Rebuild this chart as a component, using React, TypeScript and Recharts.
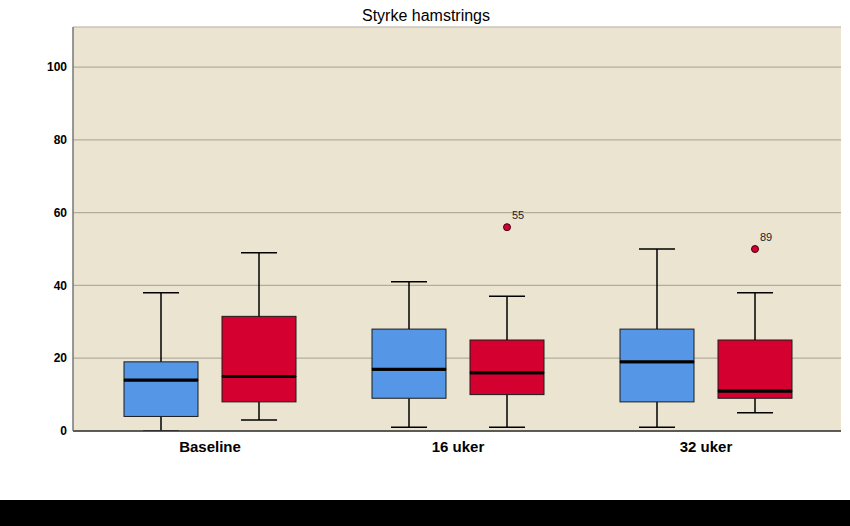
import React from 'react'
import { Bar, CartesianGrid, ComposedChart, XAxis, YAxis } from 'recharts'

const categories = ['Baseline', '16 uker', '32 uker']

// five-number summaries per group: min, q1, median, q3, max
const blueMin = [0, 1, 1]
const blueQ1 = [4, 9, 8]
const blueMed = [14, 17, 19]
const blueQ3 = [19, 28, 28]
const blueMax = [38, 41, 50]
const blueOut: (number | null)[] = [null, null, null]
const blueOutLabel = ['', '', '']

const redMin = [3, 1, 5]
const redQ1 = [8, 10, 9]
const redMed = [15, 16, 11]
const redQ3 = [31.5, 25, 25]
const redMax = [49, 37, 38]
const redOut: (number | null)[] = [null, 56, 50]
const redOutLabel = ['', '55', '89']

const yTicks = [0, 20, 40, 60, 80, 100]

const BLUE = '#5597e6'
const RED = '#d40030'
const BG = '#ebe4d1'

const data = categories.map((name, i) => ({
  name,
  bBase: blueMin[i],
  bLow: blueQ1[i] - blueMin[i],
  bBox1: blueMed[i] - blueQ1[i],
  bBox2: blueQ3[i] - blueMed[i],
  bHigh: blueMax[i] - blueQ3[i],
  bOut: blueOut[i] != null ? (blueOut[i] as number) - blueMax[i] : 0,
  bLabel: blueOutLabel[i],
  rBase: redMin[i],
  rLow: redQ1[i] - redMin[i],
  rBox1: redMed[i] - redQ1[i],
  rBox2: redQ3[i] - redMed[i],
  rHigh: redMax[i] - redQ3[i],
  rOut: redOut[i] != null ? (redOut[i] as number) - redMax[i] : 0,
  rLabel: redOutLabel[i],
}))

const CAP = 36

const LowWhisker = (p: any) => {
  const cx = p.x + p.width / 2
  const bottom = p.y + p.height
  return (
    <g>
      <line x1={cx} x2={cx} y1={p.y} y2={bottom} stroke='#000' strokeWidth={1.5} />
      <line x1={cx - CAP / 2} x2={cx + CAP / 2} y1={bottom} y2={bottom} stroke='#000' strokeWidth={1.5} />
    </g>
  )
}

const HighWhisker = (p: any) => {
  const cx = p.x + p.width / 2
  return (
    <g>
      <line x1={cx} x2={cx} y1={p.y} y2={p.y + p.height} stroke='#000' strokeWidth={1.5} />
      <line x1={cx - CAP / 2} x2={cx + CAP / 2} y1={p.y} y2={p.y} stroke='#000' strokeWidth={1.5} />
    </g>
  )
}

const makeBox = (fill: string, medianAtBottom: boolean) => (p: any) => {
  const my = medianAtBottom ? p.y + p.height : p.y
  return (
    <g>
      <rect x={p.x} y={p.y} width={p.width} height={p.height} fill={fill} stroke='#1a1a1a' strokeWidth={1} />
      <line x1={p.x} x2={p.x + p.width} y1={my} y2={my} stroke='#000' strokeWidth={3} />
    </g>
  )
}

const makeOutlier = (labelKey: string) => (p: any) => {
  if (!p.height || p.height <= 0) return <g />
  const cx = p.x + p.width / 2
  return (
    <g>
      <circle cx={cx} cy={p.y} r={3.5} fill={RED} stroke='#3a0010' strokeWidth={1} />
      <text x={cx + 5} y={p.y - 8} fontSize={11} fontFamily='Liberation Sans, Arial, sans-serif' fill='#222'>
        {p.payload[labelKey]}
      </text>
    </g>
  )
}

const Empty = () => <g />

function App() {
  return (
    <div style={{ position: 'absolute', left: 0, top: 0, width: 850, height: 526, background: '#fff' }}>
      <div
        style={{
          position: 'absolute',
          left: 0,
          top: 7,
          width: 852,
          textAlign: 'center',
          fontFamily: 'Liberation Sans, Arial, sans-serif',
          fontSize: 16,
          color: '#000',
        }}
      >
        Styrke hamstrings
      </div>
      <div style={{ position: 'absolute', left: 0, top: 0 }}>
        <ComposedChart
          width={850}
          height={500}
          data={data}
          margin={{ top: 27, right: 9, bottom: 29, left: 0 }}
          barSize={74}
          barGap={24}
        >
          <CartesianGrid vertical={false} fill={BG} stroke='#b5ad9c' strokeWidth={1.2} />
          <XAxis
            dataKey='name'
            height={40}
            padding={{ left: 13, right: 11 }}
            tickLine={false}
            axisLine={{ stroke: '#333', strokeWidth: 1.5 }}
            tick={{ fill: '#000', fontSize: 15, fontWeight: 'bold', fontFamily: 'Liberation Sans, Arial, sans-serif' }}
            tickMargin={4}
          />
          <YAxis
            width={73}
            domain={[0, 111]}
            ticks={yTicks}
            allowDataOverflow
            tickLine={false}
            axisLine={{ stroke: '#777', strokeWidth: 1.5 }}
            tick={{ fill: '#000', fontSize: 12, fontWeight: 'bold', fontFamily: 'Liberation Sans, Arial, sans-serif' }}
            tickMargin={0}
          />
          <Bar dataKey='bBase' stackId='blue' fill='none' shape={Empty} isAnimationActive={false} />
          <Bar dataKey='bLow' stackId='blue' shape={LowWhisker} isAnimationActive={false} />
          <Bar dataKey='bBox1' stackId='blue' shape={makeBox(BLUE, false)} isAnimationActive={false} />
          <Bar dataKey='bBox2' stackId='blue' shape={makeBox(BLUE, true)} isAnimationActive={false} />
          <Bar dataKey='bHigh' stackId='blue' shape={HighWhisker} isAnimationActive={false} />
          <Bar dataKey='bOut' stackId='blue' shape={makeOutlier('bLabel')} isAnimationActive={false} />
          <Bar dataKey='rBase' stackId='red' fill='none' shape={Empty} isAnimationActive={false} />
          <Bar dataKey='rLow' stackId='red' shape={LowWhisker} isAnimationActive={false} />
          <Bar dataKey='rBox1' stackId='red' shape={makeBox(RED, false)} isAnimationActive={false} />
          <Bar dataKey='rBox2' stackId='red' shape={makeBox(RED, true)} isAnimationActive={false} />
          <Bar dataKey='rHigh' stackId='red' shape={HighWhisker} isAnimationActive={false} />
          <Bar dataKey='rOut' stackId='red' shape={makeOutlier('rLabel')} isAnimationActive={false} />
        </ComposedChart>
      </div>
      <div style={{ position: 'absolute', left: 0, top: 500, width: 850, height: 26, background: '#000' }} />
    </div>
  )
}

export default App
